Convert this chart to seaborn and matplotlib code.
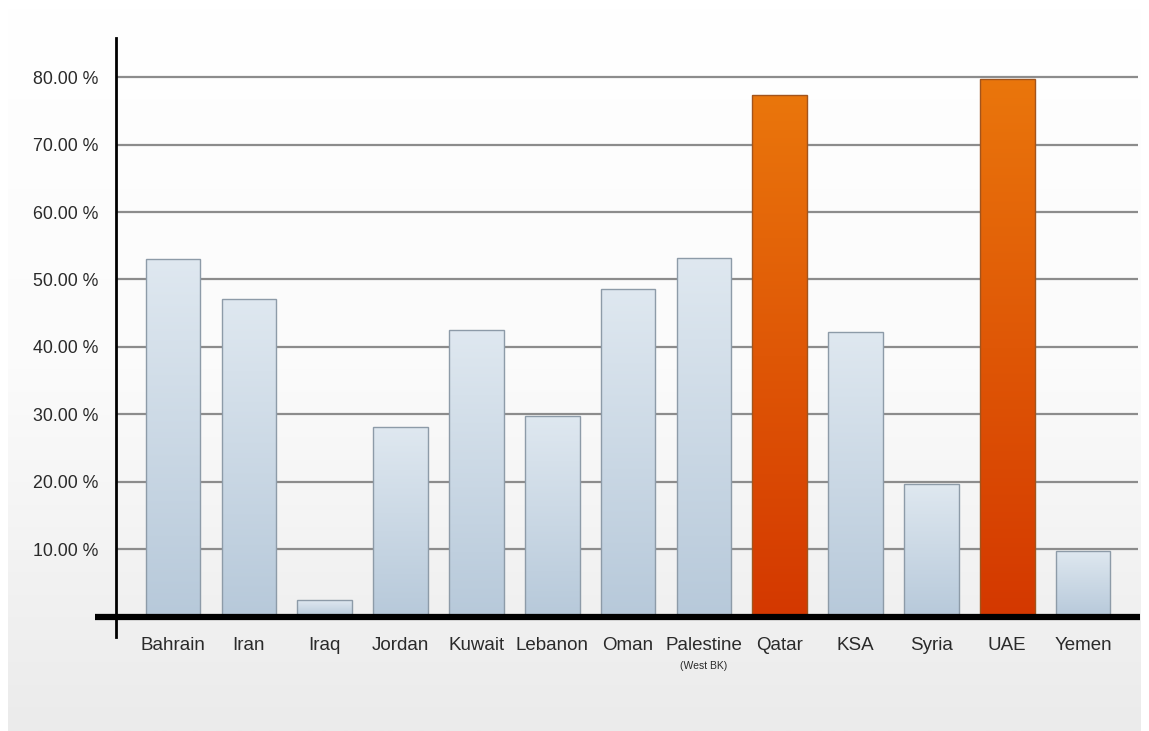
import numpy as np
import pandas as pd
import matplotlib
matplotlib.use("Agg")
import matplotlib.pyplot as plt
import seaborn as sns
from matplotlib.colors import LinearSegmentedColormap
from matplotlib.transforms import blended_transform_factory

countries = ["Bahrain", "Iran", "Iraq", "Jordan", "Kuwait", "Lebanon", "Oman",
             "Palestine", "Qatar", "KSA", "Syria", "UAE", "Yemen"]
values = [53.0, 47.1, 2.5, 28.1, 42.5, 29.8, 48.6, 53.2, 77.3, 42.2, 19.7, 79.7, 9.8]
highlight = ["Qatar", "UAE"]
yticks = [10, 20, 30, 40, 50, 60, 70, 80]
ytick_labels = ["10.00 %", "20.00 %", "30.00 %", "40.00 %", "50.00 %", "60.00 %", "70.00 %", "80.00 %"]
sub_label = "(West BK)"

df = pd.DataFrame({"country": countries, "value": values})

sns.set_theme(style="white")
plt.rcParams["font.family"] = ["Liberation Sans", "DejaVu Sans"]

W, H = 1149, 731
fig = plt.figure(figsize=(W / 100, H / 100), dpi=100)
fig.patch.set_facecolor("white")

# background panel gradient
bg = fig.add_axes([8 / W, 0, (1141 - 8) / W, (731 - 8) / H], zorder=-10)
bg_cmap = LinearSegmentedColormap.from_list("bg", ["#ffffff", "#fbfbfb", "#ebebeb"])
bg.imshow(np.linspace(0, 1, 256).reshape(-1, 1), aspect="auto", cmap=bg_cmap,
          extent=[0, 1, 0, 1], origin="upper")
bg.set_axis_off()

# main axes: x from 95px to 1140px, y from 38px to 637px
ax = fig.add_axes([95 / W, 1 - 637 / H, (1140 - 95) / W, (637 - 38) / H])
ax.patch.set_alpha(0)

sns.barplot(data=df, x="country", y="value", ax=ax, width=0.72,
            color="#c8d6e3", edgecolor="#8d9ba8", linewidth=1.0, saturation=1)

blue_cmap = LinearSegmentedColormap.from_list("blue", ["#dfe8f0", "#b7c9da"])
orange_cmap = LinearSegmentedColormap.from_list("orange", ["#ea760c", "#d43800"])
grad = np.linspace(0, 1, 256).reshape(-1, 1)
for patch, c in zip(ax.patches, countries):
    x0, y0 = patch.get_x(), patch.get_y()
    w, h = patch.get_width(), patch.get_height()
    cmap = orange_cmap if c in highlight else blue_cmap
    im = ax.imshow(grad, aspect="auto", cmap=cmap, origin="upper",
                   extent=[x0, x0 + w, y0, y0 + h], zorder=2.5)
    im.set_clip_path(patch)
    patch.set_facecolor("none")
    patch.set_zorder(3)
    if c in highlight:
        patch.set_edgecolor("#a2541c")

ax.set_xlim(-1.03, 12.75)
ax.set_ylim(-3.0, 85.8)

# gridlines
ax.hlines(yticks, -0.75, 12.73, colors="#8c8c8c", linewidth=1.6, zorder=1)

# baseline
ax.hlines([0], -1.03, 12.75, colors="black", linewidth=4.5, zorder=4)

# spines
for s in ["top", "right", "bottom"]:
    ax.spines[s].set_visible(False)
ax.spines["left"].set_position(("data", -0.75))
ax.spines["left"].set_color("black")
ax.spines["left"].set_linewidth(2)

ax.set_yticks(yticks)
ax.set_yticklabels(ytick_labels, fontsize=12.8, color="#2a2a2a")
ax.tick_params(axis="y", length=0, pad=13)
ax.tick_params(axis="x", length=0, pad=0, labelsize=13.5, labelcolor="#2a2a2a")
ax.set_xlabel("")
ax.set_ylabel("")

trans = blended_transform_factory(ax.transData, ax.transAxes)
ax.text(countries.index("Palestine"), -0.04, sub_label, transform=trans,
        ha="center", va="top", fontsize=7.5, color="#2a2a2a")

fig.savefig("out.png", dpi=100, facecolor="white")
